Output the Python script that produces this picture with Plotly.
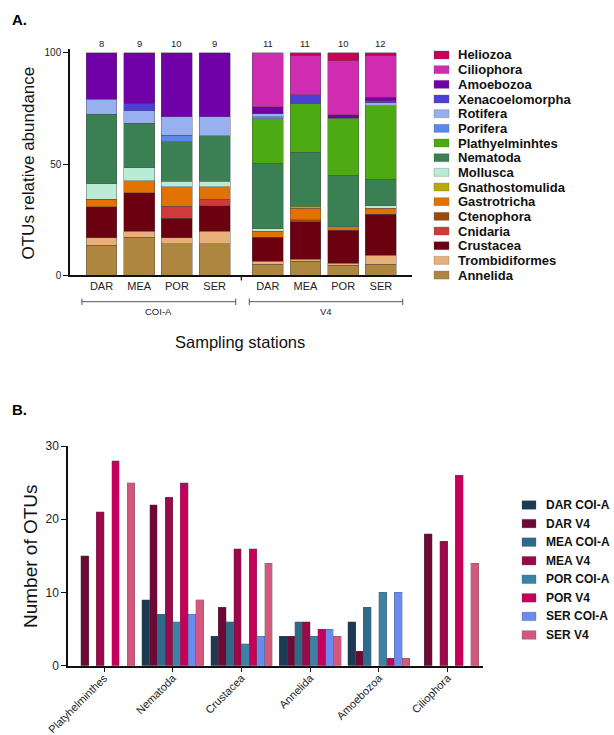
import plotly.graph_objects as go

FONT = "Liberation Sans, Arial, sans-serif"
W, H = 614, 735

# ---------------- Panel A: relative abundance of OTUs ----------------
stations = ["DAR", "MEA", "POR", "SER", "DAR", "MEA", "POR", "SER"]
markers = ["COI-A", "V4"]
otu_counts = [8, 9, 10, 9, 11, 11, 10, 12]

# stacking order, bottom to top
taxa = ["Annelida", "Trombidiformes", "Crustacea", "Cnidaria", "Ctenophora",
        "Gastrotricha", "Gnathostomulida", "Mollusca", "Nematoda",
        "Plathyelminhtes", "Porifera", "Rotifera", "Xenacoelomorpha",
        "Amoebozoa", "Ciliophora", "Heliozoa"]

taxa_colors = {
    "Heliozoa": "#c8005a",
    "Ciliophora": "#d02cb2",
    "Amoebozoa": "#7000a8",
    "Xenacoelomorpha": "#4a40d4",
    "Rotifera": "#98aff0",
    "Porifera": "#5c88ec",
    "Plathyelminhtes": "#4caa12",
    "Nematoda": "#3a8052",
    "Mollusca": "#b8ecd6",
    "Gnathostomulida": "#b8ac00",
    "Gastrotricha": "#e27200",
    "Ctenophora": "#9a4a0a",
    "Cnidaria": "#d03a3a",
    "Crustacea": "#6a0010",
    "Trombidiformes": "#e8b078",
    "Annelida": "#ae8640",
}

# % of OTUs per station: DAR, MEA, POR, SER (COI-A) then DAR, MEA, POR, SER (V4)
annelida        = [13.5, 17.2, 14.2, 14.2, 4.9, 6.3, 4.6, 4.9]
trombidiformes  = [3.4, 2.7, 2.7, 5.7, 1.4, 0.9, 0.8, 4.2]
crustacea       = [13.9, 17.2, 8.7, 11.4, 10.9, 16.8, 14.8, 18.4]
cnidaria        = [0, 0, 5.5, 2.8, 0, 0, 0, 0]
ctenophora      = [0, 0, 0, 0, 0, 0.9, 0, 0]
gastrotricha    = [3.3, 5.4, 8.7, 5.7, 2.6, 5.2, 1.7, 2.6]
gnathostomulida = [0, 0, 0, 0, 0, 1.0, 0, 0]
mollusca        = [7.1, 5.9, 2.6, 2.6, 1.2, 0, 0, 1.2]
nematoda        = [31.3, 20.0, 17.6, 20.3, 29.4, 24.3, 23.0, 12.0]
plathyelminhtes = [0, 0, 0, 0, 20.0, 21.7, 25.8, 33.0]
porifera        = [0, 0, 3.0, 0, 1.0, 0, 0, 0]
rotifera        = [6.7, 5.6, 8.3, 8.6, 1.3, 0, 0, 1.2]
xenacoelomorpha = [0, 3.1, 0, 0, 0, 4.2, 0, 1.1]
amoebozoa       = [20.8, 22.9, 28.7, 28.7, 3.0, 0, 1.6, 1.5]
ciliophora      = [0, 0, 0, 0, 24.3, 17.5, 24.1, 18.7]
heliozoa        = [0, 0, 0, 0, 0, 1.2, 3.6, 1.2]

abundance = [annelida, trombidiformes, crustacea, cnidaria, ctenophora,
             gastrotricha, gnathostomulida, mollusca, nematoda,
             plathyelminhtes, porifera, rotifera, xenacoelomorpha,
             amoebozoa, ciliophora, heliozoa]

# ---------------- Panel B: number of OTUs per phylum ----------------
phyla = ["Platyhelminthes", "Nematoda", "Crustacea", "Annelida", "Amoebozoa", "Ciliophora"]
series_names = ["DAR COI-A", "DAR V4", "MEA COI-A", "MEA V4",
                "POR COI-A", "POR V4", "SER COI-A", "SER V4"]
series_colors = ["#1c3a52", "#6b0a35", "#2e6a8a", "#990a4a",
                 "#3a82a6", "#c4005a", "#6a8aee", "#d4587e"]
dar_coi = [0, 9, 4, 4, 6, 0]
dar_v4  = [15, 22, 8, 4, 2, 18]
mea_coi = [0, 7, 6, 6, 8, 0]
mea_v4  = [21, 23, 16, 6, 0, 17]
por_coi = [0, 6, 3, 4, 10, 0]
por_v4  = [28, 25, 16, 5, 1, 26]
ser_coi = [0, 7, 4, 5, 10, 0]
ser_v4  = [25, 9, 14, 4, 1, 14]
otu_numbers = [dar_coi, dar_v4, mea_coi, mea_v4, por_coi, por_v4, ser_coi, ser_v4]

# x positions of the stacked bars: two groups of four with a gap between them
group_shift = 4.41
xpos = [i if i < 4 else group_shift + (i - 4) for i in range(len(stations))]

fig = go.Figure()

for name, vals in zip(taxa, abundance):
    fig.add_trace(go.Bar(
        x=xpos, y=[v if v > 0 else None for v in vals], name=name,
        marker=dict(color=taxa_colors[name],
                    line=dict(color="rgba(80,80,80,0.55)", width=0.8)),
        width=0.82, xaxis="x", yaxis="y", showlegend=False,
    ))

for name, vals, col in zip(series_names, otu_numbers, series_colors):
    fig.add_trace(go.Bar(
        x=phyla, y=[v if v > 0 else None for v in vals], name=name,
        marker=dict(color=col, line=dict(color="rgba(90,90,90,0.5)", width=0.6)),
        xaxis="x2", yaxis="y2", showlegend=False, offsetgroup=name,
    ))

def px(x):
    return x / W

def py(y):
    return 1 - y / H

def label(x, y, text, size, xref="paper", angle=0, xanchor="center", color="#111"):
    return dict(x=x, y=y, xref=xref, yref="paper", text=text, showarrow=False,
                textangle=angle, xanchor=xanchor, yanchor="middle",
                font=dict(size=size, color=color))

annotations = []
shapes = []

# OTU counts above the stacked bars
for x, n in zip(xpos, otu_counts):
    annotations.append(label(x, py(43), str(n), 9.5, xref="x", color="#222"))

# marker group brackets under the station labels
brackets = [(-0.52, 3.56), (3.92, 7.99)]
for (a, b), lab in zip(brackets, markers):
    shapes.append(dict(type="line", xref="x", yref="paper", x0=a, x1=b,
                       y0=py(301.7), y1=py(301.7), line=dict(color="#555", width=1)))
    for e in (a, b):
        shapes.append(dict(type="line", xref="x", yref="paper", x0=e, x1=e,
                           y0=py(298.5), y1=py(305), line=dict(color="#555", width=1)))
    annotations.append(label((a + b) / 2, py(311), lab, 9.5, xref="x", color="#222"))

# tick between the two marker groups
shapes.append(dict(type="line", xref="x", yref="paper", x0=3.71, x1=3.71,
                   y0=py(275.3), y1=py(280.5), line=dict(color="#111", width=1.3)))

annotations.append(label(px(240), py(342), "Sampling stations", 16.5))
annotations.append(label(px(27.5), py(163), "OTUs relative abundance", 17, angle=-90))
annotations.append(label(px(30), py(556), "Number of OTUs", 19, angle=-90))
annotations.append(label(px(10), py(19), "<b>A.</b>", 15, xanchor="left", color="#000"))
annotations.append(label(px(10), py(410), "<b>B.</b>", 15, xanchor="left", color="#000"))

# legend for panel A (top taxon first)
for i, name in enumerate(reversed(taxa)):
    yc = 55 + i * 14.67
    shapes.append(dict(type="rect", xref="paper", yref="paper",
                       x0=px(434), x1=px(449), y0=py(yc - 4), y1=py(yc + 4),
                       fillcolor=taxa_colors[name],
                       line=dict(color="rgba(90,90,90,0.5)", width=0.6)))
    annotations.append(label(px(456), py(yc), f"<b>{name}</b>", 13, xanchor="left"))

# legend for panel B
for i, (name, col) in enumerate(zip(series_names, series_colors)):
    yc = 505 + i * 18.57
    shapes.append(dict(type="rect", xref="paper", yref="paper",
                       x0=px(522), x1=px(536), y0=py(yc - 4.3), y1=py(yc + 4.3),
                       fillcolor=col, line=dict(color="rgba(90,90,90,0.5)", width=0.6)))
    annotations.append(label(px(544), py(yc), f"<b>{name}</b>", 12, xanchor="left"))

fig.update_layout(
    width=W, height=H,
    margin=dict(l=0, r=0, t=0, b=0, autoexpand=False),
    paper_bgcolor="white", plot_bgcolor="white",
    font=dict(family=FONT, color="#111"),
    barmode="stack",
    bargap=0.1, bargroupgap=0,
    annotations=annotations, shapes=shapes,
    xaxis=dict(domain=[px(70), px(412)], range=[-0.836, 8.236],
               tickvals=xpos, ticktext=stations, ticks="",
               tickfont=dict(size=11, color="#222"), automargin=False,
               showline=True, linecolor="#111", linewidth=1.5,
               showgrid=False, zeroline=False, anchor="y"),
    yaxis=dict(domain=[py(275.3), py(48.5)], range=[0, 102],
               tickvals=[0, 50, 100], ticks="outside", ticklen=5,
               tickwidth=1.3, tickcolor="#111", automargin=False,
               tickfont=dict(size=10, color="#222"),
               showline=True, linecolor="#111", linewidth=1.5,
               showgrid=False, zeroline=False, anchor="x"),
    xaxis2=dict(domain=[px(68), px(482.7)], range=[-0.524, 5.51],
                ticks="outside", ticklen=5, tickwidth=1.3, tickcolor="#111",
                tickangle=-45, tickfont=dict(size=11, color="#222"), automargin=False,
                ticklabelstandoff=-5,
                showline=True, linecolor="#111", linewidth=1.5,
                showgrid=False, zeroline=False, anchor="y2"),
    yaxis2=dict(domain=[py(665.7), py(445.5)], range=[0, 30.07],
                tickvals=[0, 10, 20, 30], ticks="outside", ticklen=5,
                tickwidth=1.3, tickcolor="#111", automargin=False,
                tickfont=dict(size=12, color="#222"),
                showline=True, linecolor="#111", linewidth=1.5,
                showgrid=False, zeroline=False, anchor="x2"),
)

fig.write_html("out.html")
